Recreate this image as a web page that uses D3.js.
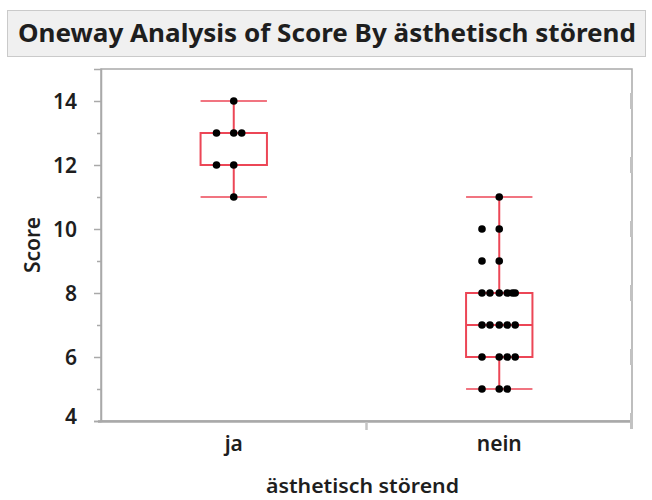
<!DOCTYPE html>
<html><head><meta charset="utf-8">
<script src="https://cdn.jsdelivr.net/npm/d3@7"></script>
<style>
body{margin:0;background:#fff;}
svg text{font-family:"Noto Sans","Open Sans",sans-serif;}
</style>
</head><body>
<svg id="c" width="652" height="500"></svg>
<script>
// ---- data ----
const categories = ["ja", "nein"];
const jaScores   = [14, 13, 13, 13, 12, 12, 11];
const neinScores = [11, 10, 10, 9, 9, 8, 8, 8, 8, 8, 8, 7, 7, 7, 7, 7, 6, 6, 6, 6, 5, 5, 5];
const yTicks      = [4, 6, 8, 10, 12, 14];
const yMinorTicks = [5, 7, 9, 11, 13];
const titleText = "Oneway Analysis of Score By ästhetisch störend";
const xTitle = "ästhetisch störend";
const yTitle = "Score";

// ---- layout ----
const plot = {left: 101, top: 69, right: 632, bottom: 421};
const boxColor = "#ec4656";
const frameColor = "#a9a9a9";
const textColor = "#1e1e1e";

const svg = d3.select("#c");
const x = d3.scaleBand().domain(categories).range([plot.left, plot.right]);
const y = d3.scaleLinear().domain([4, 15]).range([plot.bottom, plot.top]);

// title box
svg.append("rect").attr("x", 7.5).attr("y", 10.5).attr("width", 638).attr("height", 46)
  .attr("fill", "#f0f0f0").attr("stroke", "#cacaca");
svg.append("text").attr("x", 18).attr("y", 42)
  .attr("font-size", 25).attr("font-weight", "bold").attr("fill", textColor)
  .attr("textLength", 618).attr("lengthAdjust", "spacingAndGlyphs").text(titleText);

// frame
svg.append("rect").attr("x", plot.left).attr("y", plot.top)
  .attr("width", plot.right - plot.left).attr("height", plot.bottom - plot.top)
  .attr("fill", "none").attr("stroke", frameColor).attr("stroke-width", 1.5);
svg.append("line").attr("x1", plot.left - 3).attr("x2", plot.right + 1)
  .attr("y1", plot.bottom + 0.5).attr("y2", plot.bottom + 0.5)
  .attr("stroke", frameColor).attr("stroke-width", 2.5);

// right-edge tick marks
svg.append("g").selectAll("rect").data(yTicks).join("rect")
  .attr("x", plot.right - 2).attr("width", 3)
  .attr("y", d => y(d) - 8).attr("height", 16).attr("fill", "#c2c2c2");

// y axis
const yAxis = svg.append("g").attr("transform", `translate(${plot.left},0)`)
  .call(d3.axisLeft(y).tickValues(yTicks).tickSize(7).tickPadding(17));
yAxis.select(".domain").attr("stroke", frameColor).attr("stroke-width", 1.5);
yAxis.selectAll(".tick line").attr("stroke", frameColor).attr("stroke-width", 1.5);
yAxis.selectAll(".tick text").attr("font-size", 21).attr("font-weight", 600).attr("fill", textColor)
  .attr("font-family", "Noto Sans, sans-serif")
  .attr("dy", d => d === 4 ? "0.1em" : "0.35em");
const yMinor = svg.append("g").attr("transform", `translate(${plot.left},0)`)
  .call(d3.axisLeft(y).tickValues(yMinorTicks).tickSize(4).tickFormat(""));
yMinor.select(".domain").remove();
yMinor.selectAll(".tick line").attr("stroke", frameColor).attr("stroke-width", 1.5);

// x axis
const xAxis = svg.append("g").attr("transform", `translate(0,${plot.bottom})`)
  .call(d3.axisBottom(x).tickSize(0).tickPadding(15));
xAxis.select(".domain").remove();
xAxis.selectAll(".tick text").attr("font-size", 21).attr("font-weight", 600).attr("fill", textColor)
  .attr("font-family", "Noto Sans, sans-serif");
// separator tick between categories
svg.append("line").attr("x1", x("nein")).attr("x2", x("nein"))
  .attr("y1", plot.bottom + 1).attr("y2", plot.bottom + 9)
  .attr("stroke", "#c4c4c4").attr("stroke-width", 2.5);

// axis titles
svg.append("text").attr("x", (plot.left + plot.right) / 2 - 4).attr("y", 493)
  .attr("text-anchor", "middle").attr("font-size", 20).attr("font-weight", 600).attr("fill", textColor)
  .attr("textLength", 193).attr("lengthAdjust", "spacingAndGlyphs").text(xTitle);
svg.append("text").attr("transform", `translate(40,${(plot.top + plot.bottom) / 2}) rotate(-90)`)
  .attr("text-anchor", "middle").attr("font-size", 21).attr("font-weight", 600).attr("fill", textColor)
  .text(yTitle);

// ---- box plots (quantiles with (n+1)p rule) ----
function quant(sorted, p) {
  const pos = (sorted.length + 1) * p;
  const lo = Math.floor(pos), hi = Math.ceil(pos);
  const a = sorted[Math.max(0, lo - 1)], b = sorted[Math.min(sorted.length - 1, hi - 1)];
  return a + (b - a) * (pos - lo);
}
function stats(vals) {
  const s = vals.slice().sort((a, b) => a - b);
  const q1 = quant(s, 0.25), med = quant(s, 0.5), q3 = quant(s, 0.75);
  const iqr = q3 - q1;
  const lo = d3.min(s.filter(v => v >= q1 - 1.5 * iqr));
  const hi = d3.max(s.filter(v => v <= q3 + 1.5 * iqr));
  return {q1, med, q3, lo, hi};
}
const groups = [{cat: "ja", vals: jaScores}, {cat: "nein", vals: neinScores}];
const boxW = x.bandwidth() * 0.25;

groups.forEach(g => {
  const st = stats(g.vals);
  const cx = x(g.cat) + x.bandwidth() / 2;
  const bg = svg.append("g").attr("fill", "none").attr("stroke", boxColor).attr("stroke-width", 2);
  bg.append("line").attr("x1", cx).attr("x2", cx).attr("y1", y(st.hi)).attr("y2", y(st.q3));
  bg.append("line").attr("x1", cx).attr("x2", cx).attr("y1", y(st.q1)).attr("y2", y(st.lo));
  bg.append("rect").attr("x", cx - boxW / 2).attr("width", boxW)
    .attr("y", y(st.q3)).attr("height", y(st.q1) - y(st.q3));
  bg.append("line").attr("x1", cx - boxW / 2).attr("x2", cx + boxW / 2).attr("y1", y(st.med)).attr("y2", y(st.med));
  [st.lo, st.hi].forEach(v => bg.append("line")
    .attr("x1", cx - boxW / 2).attr("x2", cx + boxW / 2).attr("y1", y(v)).attr("y2", y(v)).attr("stroke-width", 1.5));

  // points with a fixed, deterministic jitter pattern within each value group
  const spread = [0, -0.065, 0.03, 0.06, -0.035, 0.05, 0.015];
  const seen = {};
  const pts = g.vals.map(v => {
    const i = seen[v] = (seen[v] === undefined ? 0 : seen[v] + 1);
    return {v, dx: spread[i % spread.length] * x.bandwidth()};
  });
  svg.append("g").selectAll("circle").data(pts).join("circle")
    .attr("cx", d => cx + d.dx).attr("cy", d => y(d.v)).attr("r", 3.8).attr("fill", "#000");
});
</script>
</body></html>
